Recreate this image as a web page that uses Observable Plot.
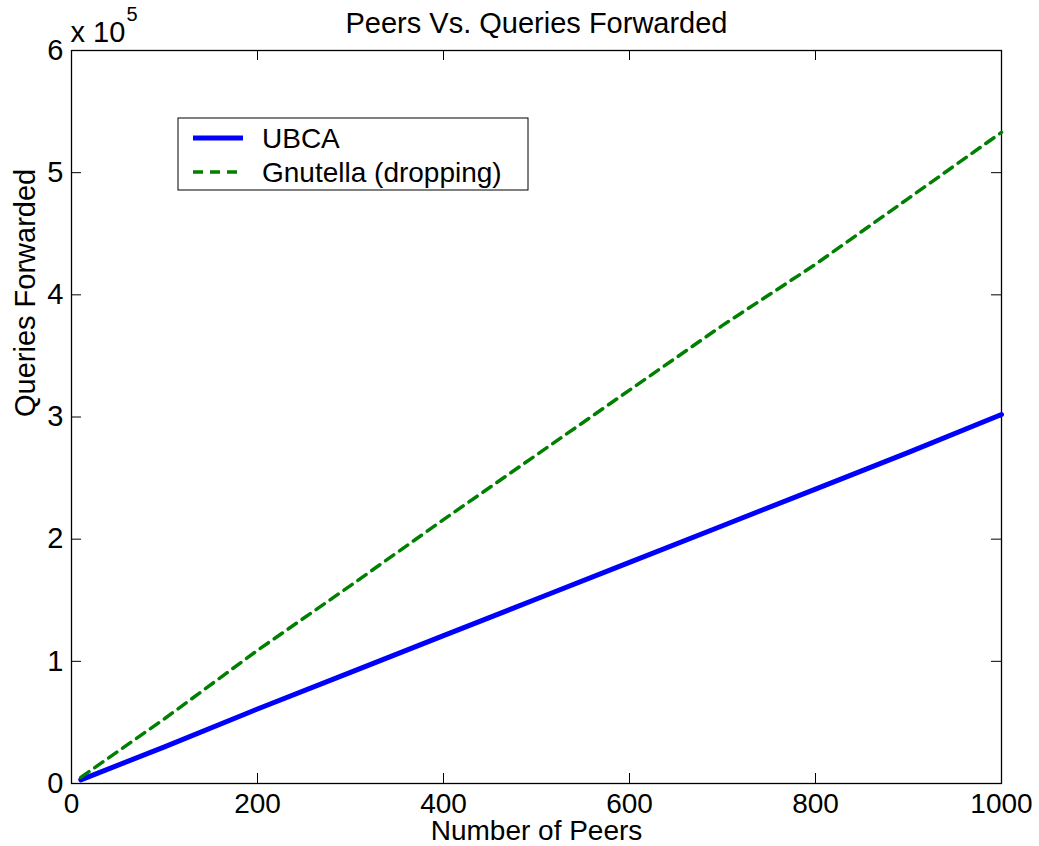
<!DOCTYPE html>
<html>
<head>
<meta charset="utf-8">
<script src="https://cdn.jsdelivr.net/npm/d3@7"></script>
<script src="https://cdn.jsdelivr.net/npm/@observablehq/plot@0.6"></script>
<style>
  html, body { margin: 0; padding: 0; background: #fff; }
  #chart svg { display: block; }
</style>
</head>
<body>
<div id="chart"></div>
<script>
// ---- data ----
const peers    = [10, 100, 200, 300, 400, 500, 600, 700, 800, 900, 1000];
const ubca     = [3000, 30000, 61000, 91000, 121000, 151000, 181000, 211000, 241000, 271000, 302000];
const gnutella = [5000, 53000, 109000, 162000, 216000, 269000, 322000, 375000, 425000, 479000, 533000];
const seriesNames = ["UBCA", "Gnutella (dropping)"];
const xTicks = [0, 200, 400, 600, 800, 1000];
const xTickLabels = ["0", "200", "400", "600", "800", "1000"];
const yTicks = [0, 100000, 200000, 300000, 400000, 500000, 600000];
const yTickLabels = ["0", "1", "2", "3", "4", "5", "6"];

const W = 1039, H = 846;
const mL = 71, mT = 50, mR = 38, mB = 63;
const iw = W - mL - mR, ih = H - mT - mB;
const font = "'Liberation Sans', Arial, Helvetica, sans-serif";
const FS = 29;

const ubcaData = peers.map((p, i) => ({x: p, y: ubca[i]}));
const gnuData = peers.map((p, i) => ({x: p, y: gnutella[i]}));

const chart = Plot.plot({
  width: W, height: H,
  marginLeft: mL, marginTop: mT, marginRight: mR, marginBottom: mB,
  style: {fontFamily: font, fontSize: FS + "px", color: "black", background: "white", overflow: "visible"},
  x: {domain: [0, 1000]},
  y: {domain: [0, 600000]},
  marks: [
    Plot.frame({stroke: "black", strokeWidth: 1.3}),
    // inward ticks on all four sides
    Plot.tickX(xTicks, {x: d => d, insetTop: ih - 10, stroke: "black"}),
    Plot.tickX(xTicks, {x: d => d, insetBottom: ih - 10, stroke: "black"}),
    Plot.tickY(yTicks, {y: d => d, insetRight: iw - 10, stroke: "black"}),
    Plot.tickY(yTicks, {y: d => d, insetLeft: iw - 10, stroke: "black"}),
    Plot.axisX(xTicks, {anchor: "bottom", tickSize: 0, tickPadding: 10, label: null, fontSize: 28,
      tickFormat: d => xTickLabels[xTicks.indexOf(d)]}),
    Plot.axisY(yTicks, {anchor: "left", tickSize: 0, tickPadding: 8, label: null, fontSize: FS,
      tickFormat: d => yTickLabels[yTicks.indexOf(d)]}),
    Plot.line(ubcaData, {x: "x", y: "y", stroke: "#0000ff", strokeWidth: 5}),
    Plot.line(gnuData, {x: "x", y: "y", stroke: "#008000", strokeWidth: 3.5, strokeDasharray: "10,7"}),
    // titles
    Plot.text(["Peers Vs. Queries Forwarded"], {frameAnchor: "top", dy: -38, text: d => d, fontSize: FS, fill: "black"}),
    Plot.text(["Number of Peers"], {frameAnchor: "bottom", dy: 56, text: d => d, fontSize: 28, fill: "black"}),
    Plot.text(["Queries Forwarded"], {frameAnchor: "left", dx: -46, rotate: -90, text: d => d, fontSize: FS, fill: "black"}),
    Plot.text(["x 10"], {frameAnchor: "top-left", dx: -1, dy: -29, textAnchor: "start", text: d => d, fontSize: FS, fill: "black"}),
    Plot.text(["5"], {frameAnchor: "top-left", dx: 55, dy: -44, textAnchor: "start", text: d => d, fontSize: 20, fill: "black"})
  ]
});

// legend drawn inside the plot frame
const svg = d3.select(chart);
const lg = svg.append("g").attr("transform", `translate(${mL + 107},${mT + 68})`);
lg.append("rect").attr("x", 0).attr("y", 0).attr("width", 350).attr("height", 72)
  .attr("fill", "white").attr("stroke", "black").attr("stroke-width", 1);
const legendStyles = [
  {stroke: "#0000ff", width: 5, dash: null},
  {stroke: "#008000", width: 3.5, dash: "10,7"}
];
seriesNames.forEach((name, i) => {
  const cy = 20 + i * 34;
  lg.append("line").attr("x1", 15).attr("x2", 65).attr("y1", cy).attr("y2", cy)
    .attr("stroke", legendStyles[i].stroke).attr("stroke-width", legendStyles[i].width)
    .attr("stroke-dasharray", legendStyles[i].dash);
  lg.append("text").attr("x", 84).attr("y", cy).attr("dy", "0.35em")
    .attr("text-anchor", "start")
    .attr("font-family", font).attr("font-size", 28).attr("fill", "black").text(name);
});

document.getElementById("chart").appendChild(chart);
</script>
</body>
</html>
